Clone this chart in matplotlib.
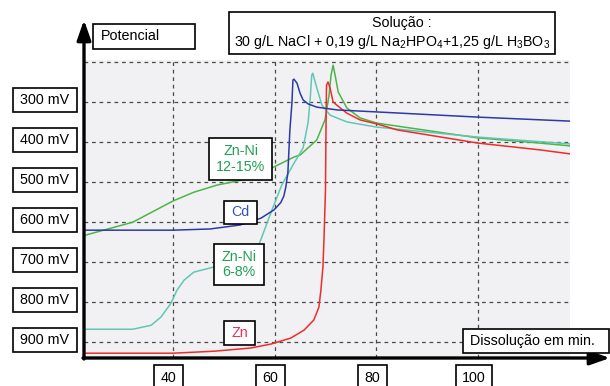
import matplotlib
matplotlib.use("Agg")
import matplotlib.pyplot as plt
from matplotlib.patches import Rectangle

plt.rcParams['font.family'] = ['Liberation Sans', 'DejaVu Sans']
plt.rcParams['mathtext.fontset'] = 'custom'
plt.rcParams['mathtext.rm'] = 'Liberation Sans'

# dissolution curves: time (min) vs potential (mV, shown inverted)
cd_t = [22.9, 40.0, 47.3, 53.2, 57.3, 59.9, 61.2, 61.8, 62.2, 62.6, 63.0, 63.4,
        63.6, 63.8, 64.4, 65.0, 65.6, 66.6, 68.3, 72.3, 80.1, 100.0, 118.1]
cd_mv = [621, 621, 618, 608, 591, 570, 552, 536, 513, 478, 370, 303,
         245, 243, 253, 278, 295, 305, 313, 320, 325, 338, 348]

znni12_t = [22.9, 32.1, 40.0, 44.1, 48.7, 53.4, 59.5, 63.8, 65.0, 68.3, 69.9,
            70.7, 71.1, 71.5, 71.9, 72.5, 74.2, 76.8, 80.1, 100.0, 112.2, 118.1]
znni12_mv = [633, 601, 548, 526, 508, 496, 465, 438, 433, 395, 345,
             283, 233, 208, 233, 275, 315, 340, 353, 390, 403, 410]

znni6_t = [22.9, 32.1, 35.7, 37.6, 39.6, 40.8, 42.2, 44.1, 48.1, 53.2, 56.9,
           59.3, 61.4, 63.6, 65.6, 66.6, 67.0, 67.3, 67.5, 68.3, 69.3, 70.9,
           74.2, 80.1, 100.0, 118.1]
znni6_mv = [869, 869, 859, 839, 804, 771, 746, 726, 713, 701, 658,
            576, 508, 458, 415, 350, 290, 233, 228, 265, 308, 333,
            350, 363, 388, 405]

zn_t = [22.9, 40.0, 48.1, 55.3, 59.3, 63.2, 65.8, 67.7, 68.7, 69.1, 69.5,
        69.7, 70.0, 70.1, 70.2, 70.5, 70.9, 71.5, 72.9, 74.2, 76.8, 80.1,
        84.1, 100.0, 112.2, 118.1]
zn_mv = [929, 929, 924, 916, 906, 891, 871, 846, 814, 771, 713,
         646, 521, 370, 258, 250, 265, 300, 315, 328, 345, 355,
         370, 403, 420, 430]

x_ticks = [40, 60, 80, 100]
y_grid = [200, 300, 400, 500, 600, 700, 800, 900]
y_labels = [300, 400, 500, 600, 700, 800, 900]

W, H = 610, 386


def fx(px):
    return px / W


def fy(py):
    return 1 - py / H


fig = plt.figure(figsize=(W / 100, H / 100), dpi=100)
ax = fig.add_axes([fx(84), fy(358), fx(570) - fx(84), fy(60) - fy(358)])
ax.set_facecolor('#f1f1f3')

ax.plot(znni12_t, znni12_mv, color='#4cb548', lw=1.1)
ax.plot(znni6_t, znni6_mv, color='#62c6b6', lw=1.1)
ax.plot(zn_t, zn_mv, color='#ef2b2b', lw=1.1)
ax.plot(cd_t, cd_mv, color='#2a3aa8', lw=1.1)

ax.set_xlim(22.5, 118.1)
ax.set_ylim(941, 195)
ax.set_xticks(x_ticks)
ax.set_yticks(y_grid)
ax.grid(True, ls=(0, (3, 3)), color='#4a4a4a', lw=0.9)
ax.tick_params(length=0, labelbottom=False, labelleft=False)
for s in ax.spines.values():
    s.set_visible(False)

# axis arrows
arrow = dict(arrowstyle='-|>,head_length=1.0,head_width=0.35', lw=2.4,
             color='black', mutation_scale=12, shrinkA=0, shrinkB=0)
ax.annotate('', xy=(84, H - 20), xytext=(84, H - 359), xycoords='figure pixels',
            arrowprops=arrow, annotation_clip=False)
ax.annotate('', xy=(610, H - 358), xytext=(83, H - 358), xycoords='figure pixels',
            arrowprops=arrow, annotation_clip=False)


def box(x0, y0, x1, y1, text, color='black', size=10.3, tx=None, ha='center'):
    fig.add_artist(Rectangle((fx(x0), fy(y1)), fx(x1) - fx(x0), fy(y0) - fy(y1),
                             transform=fig.transFigure, facecolor='white',
                             edgecolor='black', lw=1.2, zorder=5))
    if tx is None:
        tx = (x0 + x1) / 2
    fig.text(fx(tx), fy((y0 + y1) / 2), text, color=color, fontsize=size,
             ha=ha, va='center', linespacing=1.15, zorder=6)


def to_px(x, y):
    dx, dy = ax.transData.transform((x, y))
    return dx, H - dy


# y labels in boxes
for v in y_labels:
    _, py = to_px(30, v)
    box(13, py - 14, 77, py + 10, f'{v} mV')

# x labels in boxes (cut off at the bottom)
for v in x_ticks:
    px, _ = to_px(v, 500)
    w = 36 if v >= 100 else 29
    box(px - 4 - w / 2, 365, px - 4 + w / 2, 392, str(v), tx=px - 4)

box(93, 24, 195, 49, 'Potencial', tx=101, ha='left')
box(229, 12, 555, 54, '')
fig.text(fx(402), fy(23), 'Solução :', fontsize=10.3, ha='center', va='center', zorder=6)
fig.text(fx(392), fy(42),
         r'30 g/L NaCl + 0,19 g/L Na$_2$HPO$_4$+1,25 g/L H$_3$BO$_3$',
         fontsize=10.3, ha='center', va='center', zorder=6)
box(463, 329, 609, 353, 'Dissolução em min.', tx=470, ha='left')

box(209, 138, 272, 180, 'Zn-Ni\n12-15%', color='#1fa053')
box(224, 201, 257, 224, 'Cd', color='#3352bb')
box(214, 244, 264, 285, 'Zn-Ni\n6-8%', color='#1fa053')
box(224, 321, 255, 345, 'Zn', color='#ec2f55')

fig.savefig('out.png', dpi=100)
